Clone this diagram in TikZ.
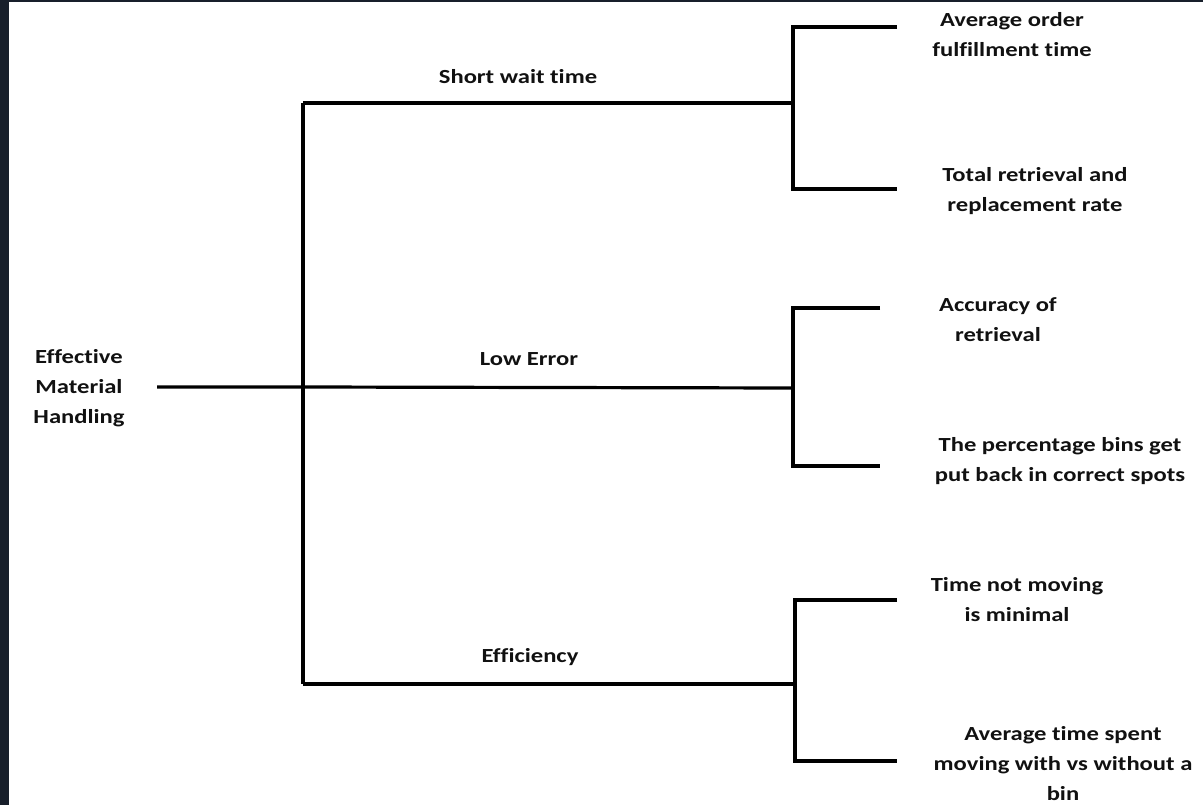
\documentclass[tikz,border=0pt]{standalone}
\usepackage{fontspec}
\setmainfont{Carlito}[FakeStretch=1.23,Ligatures=NoCommon]
\definecolor{frame}{HTML}{181F2B}
\definecolor{ink}{HTML}{111111}
\begin{document}
\begin{tikzpicture}[x=1pt,y=-1pt,
  lbl/.style={inner sep=0pt,align=center,text=ink,font=\bfseries\fontsize{20}{30}\selectfont},
  wire/.style={draw=black,line width=3.2pt,line join=miter}]
\useasboundingbox (0,0) rectangle (1203,805);
\fill[frame] (0,0) rectangle (1203,805);
\fill[white] (9,2) rectangle (1203,805);
% text nodes
\node[lbl] (root) at (79,388) {Effective\\Material\\Handling};
\node[lbl] (swt) at (518,77) {Short wait time};
\node[lbl] (le) at (529,359) {Low Error};
\node[lbl] (eff) at (530,657) {Efficiency};
\node[lbl] (l1) at (1012,35) {Average order\\fulfillment time};
\node[lbl] (l2) at (1035,191) {Total retrieval and\\replacement rate};
\node[lbl] (l3) at (998,320) {Accuracy of\\retrieval};
\node[lbl] (l4) at (1060,461) {The percentage bins get\\put back in correct spots};
\node[lbl] (l5) at (1017,600) {Time not moving\\is minimal};
\node[lbl] (l6) at (1063,764) {Average time spent\\moving with vs without a\\bin};
% junction coordinates
\coordinate (r0) at (157,387);
\coordinate (sT) at (303,103);
\coordinate (sM) at (303,387);
\coordinate (sB) at (303,684);
\coordinate (jT) at (793,103);
\coordinate (jM) at (793,388);
\coordinate (jB) at (795,684);
\coordinate (jT1) at (793,27);
\coordinate (jT2) at (793,189);
\coordinate (jM1) at (793,308);
\coordinate (jM2) at (793,466);
\coordinate (jB1) at (795,600);
\coordinate (jB2) at (795,761);
\coordinate (e1) at (897,27);
\coordinate (e2) at (897,189);
\coordinate (e3) at (880,308);
\coordinate (e4) at (880,466);
\coordinate (e5) at (897,600);
\coordinate (e6) at (897,761);
% connectors
\draw[wire] (sT) -- (sB);
\draw[wire] (r0) -- (sM) -- (jM);
\draw[wire] (sT) -- (jT);
\draw[wire] (sB) -- (jB);
\draw[wire] (e1) -- (jT1) -- (jT2) -- (e2);
\draw[wire] (e3) -- (jM1) -- (jM2) -- (e4);
\draw[wire] (e5) -- (jB1) -- (jB2) -- (e6);
\end{tikzpicture}
\end{document}
